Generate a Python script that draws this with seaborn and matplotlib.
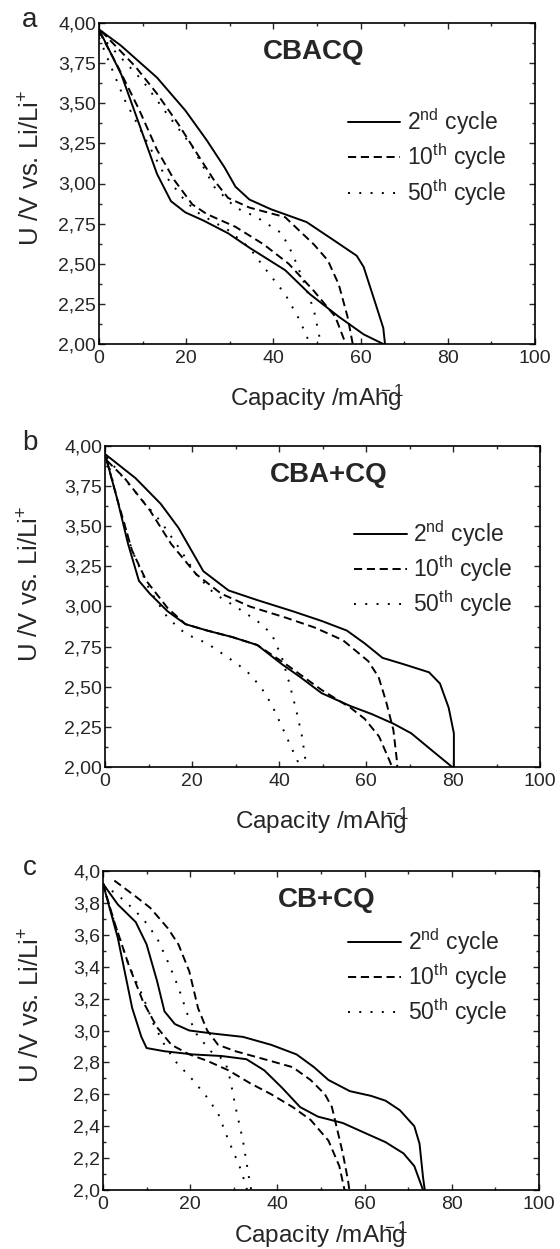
import numpy as np
import pandas as pd
import matplotlib
matplotlib.use("Agg")
import matplotlib.pyplot as plt
from matplotlib.ticker import MultipleLocator, FuncFormatter
import seaborn as sns

# ---------------- data ----------------
# Panel a: CBACQ
a_2nd_up_x = [0, 5, 13.3, 19.8, 24.7, 28.8, 31.3, 34.5, 39.4, 47.6, 54.2, 59.1, 60.7, 63.2, 65.2, 65.6]
a_2nd_up_y = [3.96, 3.86, 3.66, 3.455, 3.27, 3.10, 2.98, 2.90, 2.84, 2.76, 2.64, 2.55, 2.48, 2.27, 2.10, 2.00]
a_2nd_lo_x = [0, 5.1, 10, 13.3, 16.5, 19.8, 23.9, 29.6, 34.5, 42.7, 48.4, 55, 60.7, 65.2]
a_2nd_lo_y = [3.96, 3.68, 3.31, 3.06, 2.89, 2.82, 2.77, 2.69, 2.60, 2.46, 2.31, 2.17, 2.06, 2.00]
a_10th_up_x = [0.5, 8.3, 13.3, 18.2, 23.1, 26.4, 29.6, 34.5, 42.7, 49.3, 52.5, 55, 57.0, 58.2]
a_10th_up_y = [3.95, 3.73, 3.56, 3.37, 3.16, 3.02, 2.91, 2.85, 2.79, 2.62, 2.52, 2.37, 2.17, 2.00]
a_10th_lo_x = [0, 4.3, 9.2, 13.3, 17.3, 21.4, 24.7, 31.3, 37.8, 43.5, 49.3, 54.2, 56.6]
a_10th_lo_y = [3.95, 3.73, 3.46, 3.21, 3.02, 2.87, 2.81, 2.73, 2.62, 2.50, 2.33, 2.17, 2.00]
a_50th_up_x = [0, 10, 15.7, 21.4, 26.4, 31.3, 36.2, 41.9, 44.4, 46.8, 49.3, 50.9]
a_50th_up_y = [3.93, 3.64, 3.43, 3.23, 2.98, 2.85, 2.79, 2.69, 2.56, 2.40, 2.21, 2.00]
a_50th_lo_x = [0, 5.9, 10.8, 14.9, 19.8, 23.1, 29.6, 34.5, 37.8, 42.7, 46, 48.4]
a_50th_lo_y = [3.91, 3.52, 3.27, 3.06, 2.89, 2.81, 2.71, 2.60, 2.48, 2.31, 2.15, 2.00]

# Panel b: CBA+CQ
b_2nd_up_x = [0, 7, 12.8, 16.9, 22.6, 28.4, 35, 43.2, 49.8, 55.6, 59.7, 63.8, 68.7, 74.5, 77, 79, 80.2, 80.2]
b_2nd_up_y = [3.95, 3.80, 3.64, 3.49, 3.22, 3.10, 3.04, 2.97, 2.91, 2.85, 2.77, 2.68, 2.64, 2.59, 2.52, 2.37, 2.21, 2.00]
b_2nd_lo_x = [0, 2.9, 5.3, 7.8, 10.3, 14.4, 18.5, 23.5, 29.2, 35, 40.7, 44.9, 49.8, 56.4, 61.3, 66.3, 70.4, 75.3, 79.8]
b_2nd_lo_y = [3.95, 3.66, 3.39, 3.16, 3.08, 2.97, 2.89, 2.85, 2.81, 2.76, 2.64, 2.56, 2.46, 2.38, 2.33, 2.27, 2.21, 2.10, 2.00]
b_10th_up_x = [0.4, 4.5, 10.3, 15.2, 21, 26.7, 33.3, 41.6, 48.1, 54.7, 60.5, 62.9, 64.6, 66.3, 67.1, 67.2]
b_10th_up_y = [3.91, 3.80, 3.60, 3.39, 3.20, 3.08, 3.00, 2.93, 2.87, 2.79, 2.66, 2.56, 2.41, 2.23, 2.04, 2.00]
b_10th_lo_x = [0.4, 2.9, 6.2, 9.5, 14.4, 18.5, 23.5, 29.2, 35, 41.6, 49.8, 56.4, 59.7, 63, 65.4, 66]
b_10th_lo_y = [3.91, 3.66, 3.35, 3.16, 2.99, 2.89, 2.85, 2.81, 2.76, 2.64, 2.48, 2.37, 2.30, 2.19, 2.04, 2.00]
b_50th_up_x = [0.4, 3.7, 8.6, 12.8, 16.9, 21, 25.1, 30, 35, 38.3, 40.7, 42.4, 44, 45.3, 46.1, 46.3]
b_50th_up_y = [3.93, 3.82, 3.66, 3.53, 3.37, 3.20, 3.08, 3.00, 2.91, 2.83, 2.68, 2.52, 2.35, 2.19, 2.04, 2.00]
b_50th_lo_x = [0.4, 2.9, 6.2, 10.3, 14.4, 18.5, 23.5, 28.4, 32.5, 35.8, 38.3, 40.7, 43.2, 44.9]
b_50th_lo_y = [3.93, 3.66, 3.35, 3.10, 2.93, 2.83, 2.77, 2.68, 2.60, 2.50, 2.39, 2.25, 2.10, 2.00]

# Panel c: CB+CQ
c_2nd_up_x = [0, 3.4, 7.5, 10, 12.4, 14.1, 16.5, 19.8, 25.5, 32.1, 38.6, 44.4, 48.4, 51.7, 56.6, 61.5, 64.8, 68.1, 71.4, 72.6, 73.4, 73.8]
c_2nd_up_y = [3.92, 3.79, 3.68, 3.54, 3.31, 3.12, 3.04, 3.00, 2.98, 2.96, 2.91, 2.85, 2.77, 2.69, 2.62, 2.59, 2.56, 2.50, 2.40, 2.29, 2.08, 2.00]
c_2nd_lo_x = [0, 3.4, 6.7, 8.8, 10, 14.1, 20.6, 27.2, 32.9, 37, 41.1, 45.2, 49.3, 55, 60.7, 64.8, 68.9, 71.4, 73.4]
c_2nd_lo_y = [3.92, 3.58, 3.14, 2.96, 2.89, 2.87, 2.85, 2.84, 2.82, 2.75, 2.64, 2.52, 2.46, 2.42, 2.35, 2.30, 2.23, 2.15, 2.00]
c_10th_up_x = [2.6, 7.5, 10.8, 14.9, 17.3, 19.8, 21.8, 23.9, 26.4, 30.4, 37, 43.5, 47.6, 50.9, 52.5, 53.8, 55, 56.2, 56.5]
c_10th_up_y = [3.94, 3.84, 3.77, 3.64, 3.54, 3.37, 3.14, 3.00, 2.91, 2.87, 2.82, 2.77, 2.69, 2.60, 2.52, 2.37, 2.23, 2.06, 2.00]
c_10th_lo_x = [0, 2.6, 5.9, 9.2, 12.4, 15.7, 19.8, 23.9, 28.8, 33.7, 38.6, 43.5, 47.6, 51.7, 54.2, 55.4]
c_10th_lo_y = [3.92, 3.68, 3.41, 3.18, 3.02, 2.91, 2.85, 2.81, 2.75, 2.67, 2.60, 2.52, 2.44, 2.31, 2.15, 2.00]
c_50th_up_x = [0, 5.1, 9.2, 12.4, 14.9, 17.3, 19.4, 21.4, 24.7, 28, 29.2, 30.4, 32.1, 33.7, 34]
c_50th_up_y = [3.92, 3.81, 3.70, 3.58, 3.43, 3.27, 3.10, 2.98, 2.87, 2.81, 2.69, 2.52, 2.31, 2.04, 2.00]
c_50th_lo_x = [0, 2.6, 5.9, 9.2, 11.6, 14.1, 16.5, 20.6, 23.9, 26.4, 28.8, 31.3, 32.9, 33]
c_50th_lo_y = [3.91, 3.68, 3.41, 3.21, 3.04, 2.91, 2.81, 2.69, 2.58, 2.48, 2.31, 2.15, 2.02, 2.00]

cycle_labels = [r"2$^{\mathrm{nd}}$ cycle", r"10$^{\mathrm{th}}$ cycle", r"50$^{\mathrm{th}}$ cycle"]
panel_titles = ["CBACQ", "CBA+CQ", "CB+CQ"]
panel_letters = ["a", "b", "c"]
x_ticks = [0, 20, 40, 60, 80, 100]

panels = [
    [(a_2nd_up_x, a_2nd_up_y, a_2nd_lo_x, a_2nd_lo_y),
     (a_10th_up_x, a_10th_up_y, a_10th_lo_x, a_10th_lo_y),
     (a_50th_up_x, a_50th_up_y, a_50th_lo_x, a_50th_lo_y)],
    [(b_2nd_up_x, b_2nd_up_y, b_2nd_lo_x, b_2nd_lo_y),
     (b_10th_up_x, b_10th_up_y, b_10th_lo_x, b_10th_lo_y),
     (b_50th_up_x, b_50th_up_y, b_50th_lo_x, b_50th_lo_y)],
    [(c_2nd_up_x, c_2nd_up_y, c_2nd_lo_x, c_2nd_lo_y),
     (c_10th_up_x, c_10th_up_y, c_10th_lo_x, c_10th_lo_y),
     (c_50th_up_x, c_50th_up_y, c_50th_lo_x, c_50th_lo_y)],
]

# ---------------- style ----------------
sns.set_style("ticks")
plt.rcParams["font.family"] = ["Liberation Sans", "DejaVu Sans"]
plt.rcParams["mathtext.fontset"] = "custom"
plt.rcParams["mathtext.rm"] = "Liberation Sans"
plt.rcParams["mathtext.it"] = "Liberation Sans:italic"
plt.rcParams["mathtext.bf"] = "Liberation Sans:bold"

LW = 1.4
linestyles = ["-", (0, (4.2, 2.4)), (0, (1, 4.8))]

fig = plt.figure(figsize=(5.6, 12.49), dpi=100)
px_w, px_h = 560, 1249
boxes = [(99, 23, 535, 344), (105, 446, 540, 767), (103, 871, 539, 1190)]
legend_anchor = [(0.57, 0.74), (0.572, 0.775), (0.562, 0.827)]
title_x = [0.493, 0.514, 0.513]
ylabel_y = [0.55, 0.57, 0.58]
xlabel_pad = [12, 12, 5]
ytick_step = [0.25, 0.25, 0.2]
ytick_fmt = ["{:.2f}", "{:.2f}", "{:.1f}"]

for i, (l, t, r, b) in enumerate(boxes):
    ax = fig.add_axes([l / px_w, 1 - b / px_h, (r - l) / px_w, (b - t) / px_h])
    for j, (ux, uy, lx, ly) in enumerate(panels[i]):
        sns.lineplot(x=ux, y=uy, sort=False, estimator=None, color="black",
                     lw=LW, linestyle=linestyles[j], label=cycle_labels[j], ax=ax)
        sns.lineplot(x=lx, y=ly, sort=False, estimator=None, color="black",
                     lw=LW, linestyle=linestyles[j], ax=ax)
    ax.set_xlim(0, 100)
    ax.set_ylim(2.0, 4.0)
    ax.set_xticks(x_ticks)
    ax.xaxis.set_minor_locator(MultipleLocator(10))
    ax.yaxis.set_major_locator(MultipleLocator(ytick_step[i]))
    ax.yaxis.set_minor_locator(MultipleLocator(ytick_step[i] / 2))
    fmt = ytick_fmt[i]
    ax.yaxis.set_major_formatter(FuncFormatter(lambda v, p, fmt=fmt: fmt.format(v).replace(".", ",")))
    ax.xaxis.set_major_formatter(FuncFormatter(lambda v, p: f"{v:.0f}"))
    ax.tick_params(which="both", direction="in", top=True, right=True,
                   width=1.0, labelsize=14)
    ax.tick_params(axis="y", pad=2)
    ax.tick_params(axis="x", pad=4)
    ax.tick_params(which="major", length=4)
    ax.tick_params(which="minor", length=2.5)
    for s in ax.spines.values():
        s.set_linewidth(1.2)
        s.set_color("black")
    ax.set_xlabel(r"Capacity /mAhg$^{\!\!\!\!\!\!\!\!\!\!-1}$", fontsize=17.5,
                  labelpad=xlabel_pad[i])
    ax.set_ylabel(r"U /V vs. Li/Li$^{+}$", fontsize=18.5)
    ax.yaxis.set_label_coords((44 - l) / (r - l), ylabel_y[i])
    ax.text(title_x[i], 0.91, panel_titles[i], transform=ax.transAxes,
            fontsize=20, fontweight="bold", ha="center", va="center")
    handles, labels = ax.get_legend_handles_labels()
    ax.legend(handles, labels, loc="upper left", bbox_to_anchor=legend_anchor[i],
              frameon=False, fontsize=16.5, handlelength=2.3, handletextpad=0.3,
              labelspacing=0.2, borderpad=0, borderaxespad=0)
    fig.text(30 / px_w, 1 - (t - 3) / px_h, panel_letters[i], fontsize=20,
             ha="center", va="center")

fig.savefig("out.png", dpi=100)
